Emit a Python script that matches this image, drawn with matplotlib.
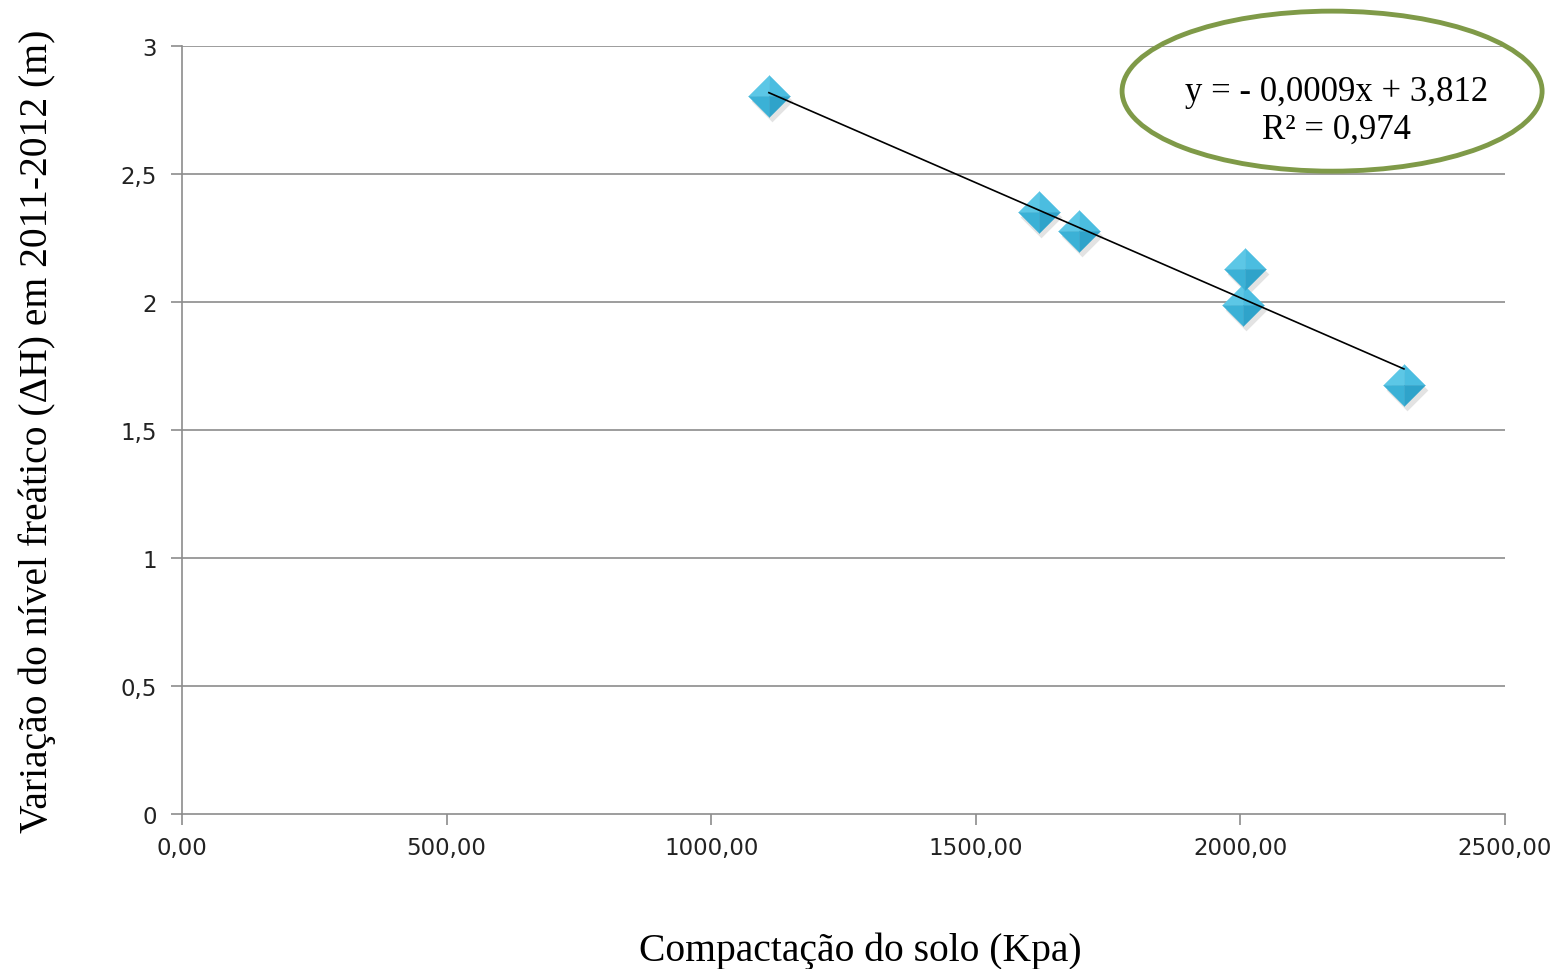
import numpy as np
import matplotlib
matplotlib.use('Agg')
import matplotlib.pyplot as plt
from matplotlib.patches import Ellipse
from matplotlib.ticker import FixedLocator, FuncFormatter

# data
compactacao = [1109, 1619, 1695, 2009, 2005, 2309]
delta_h = [2.805, 2.352, 2.277, 2.129, 1.988, 1.676]

x_ticks = [0, 500, 1000, 1500, 2000, 2500]
y_ticks = [0, 0.5, 1, 1.5, 2, 2.5, 3]
eq_text = 'y = - 0,0009x + 3,812'
r2_text = 'R² = 0,974'

serif = ['Liberation Serif', 'DejaVu Serif']
grey = '#8c8c8c'

fig = plt.figure(figsize=(15.58, 9.70), dpi=100)
ax = fig.add_axes([0.1168, 0.1598, 0.8492, 0.7917])

# gridlines only horizontal
for yv in y_ticks[1:]:
    ax.axhline(yv, color=grey, lw=1.2, zorder=0)

# linear trend line over the range of the points
coef = np.polyfit(compactacao, delta_h, 1)
xl = np.array([min(compactacao), max(compactacao)])
ax.plot(xl, np.polyval(coef, xl), color='black', lw=1.2, zorder=5)

# diamond markers with four shaded facets
diamond = [(-1, 0), (0, 1), (1, 0), (0, -1), (-1, 0)]
facets = [
    ([(0, 0), (-1, 0), (0, 1), (0, 0)], '#5cc7e6'),   # top left
    ([(0, 0), (0, 1), (1, 0), (0, 0)], '#4bbde0'),    # top right
    ([(0, 0), (-1, 0), (0, -1), (0, 0)], '#3bb1d6'),  # bottom left
    ([(0, 0), (1, 0), (0, -1), (0, 0)], '#2fa3ca'),   # bottom right
]
ms = 30
ax.plot(np.array(compactacao) + 5, np.array(delta_h) - 0.018, ls='none',
        marker=diamond, ms=ms, mfc='#b0b0b0', mec='none', alpha=0.35, zorder=3)
for verts, col in facets:
    ax.plot(compactacao, delta_h, ls='none', marker=verts, ms=ms,
            mfc=col, mec=col, mew=0.3, zorder=4)

ax.set_xlim(0, 2500)
ax.set_ylim(0, 3)
ax.xaxis.set_major_locator(FixedLocator(x_ticks))
ax.yaxis.set_major_locator(FixedLocator(y_ticks))
ax.xaxis.set_major_formatter(FuncFormatter(lambda v, p: ('%.2f' % v).replace('.', ',')))
ax.yaxis.set_major_formatter(FuncFormatter(lambda v, p: ('%g' % v).replace('.', ',')))

for s in ['top', 'right']:
    ax.spines[s].set_visible(False)
for s in ['left', 'bottom']:
    ax.spines[s].set_color(grey)
    ax.spines[s].set_linewidth(1.2)
ax.tick_params(axis='both', direction='out', length=8, width=1.2, color=grey,
               labelsize=16.5, labelcolor='#222222', pad=8)
ax.tick_params(axis='y', pad=10)

fig.text(0.552, 0.0, 'Compactação do solo (Kpa)', ha='center', va='bottom',
         fontsize=28.5, family=serif)
fig.text(0.024, 0.555, 'Variação do nível freático (ΔH) em 2011-2012 (m)',
         ha='center', va='center', rotation=90, fontsize=28.5, family=serif)

# equation in a green ellipse
fig.patches.append(Ellipse((0.855, 0.905), 0.2696, 0.165, transform=fig.transFigure,
                           fill=False, ec='#7f9a48', lw=3.5, zorder=10))
fig.text(0.858, 0.905, eq_text, ha='center', va='center', fontsize=25, family=serif)
fig.text(0.858, 0.866, r2_text, ha='center', va='center', fontsize=25, family=serif)

fig.savefig('out.png', dpi=100)
